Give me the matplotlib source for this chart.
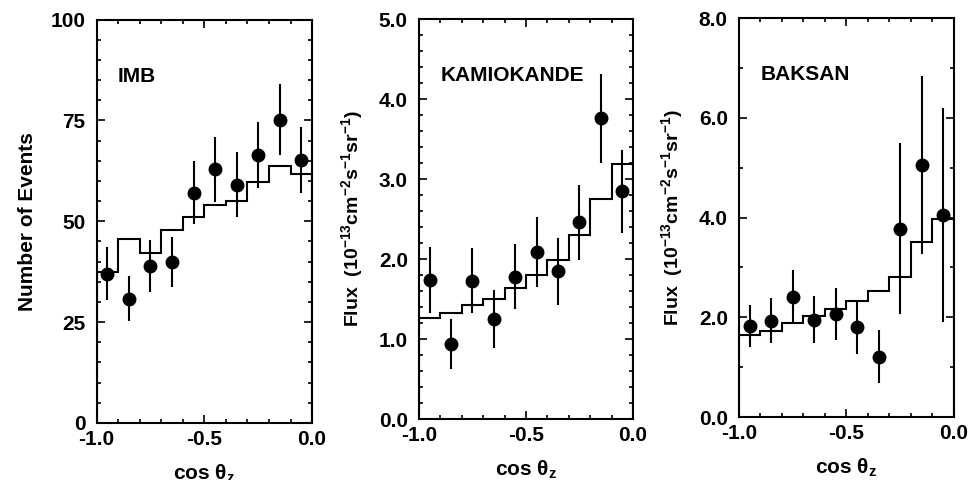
import numpy as np
import matplotlib.pyplot as plt
from matplotlib.ticker import MultipleLocator

plt.rcParams['font.family'] = ['Liberation Sans', 'DejaVu Sans']
plt.rcParams['font.weight'] = 'bold'
plt.rcParams['axes.labelweight'] = 'bold'
plt.rcParams['mathtext.fontset'] = 'custom'
plt.rcParams['mathtext.rm'] = 'Liberation Sans:bold'
plt.rcParams['mathtext.it'] = 'Liberation Sans:bold'
plt.rcParams['mathtext.bf'] = 'Liberation Sans:bold'

bin_edges = np.round(np.arange(-1.0, 0.01, 0.1), 2)
centers = np.round(np.arange(-0.95, 0.0, 0.1), 2)

# IMB
imb_pts = [37.0, 30.8, 38.9, 39.9, 57.1, 62.9, 59.1, 66.4, 75.2, 65.1]
imb_err = [6.5, 5.6, 6.5, 6.3, 7.8, 8.0, 8.1, 8.1, 8.8, 8.2]
imb_mc = [37.4, 45.5, 42.2, 47.8, 51.1, 54.0, 55.0, 59.7, 63.7, 61.7]

# Kamiokande
kam_pts = [1.74, 0.94, 1.73, 1.25, 1.78, 2.09, 1.85, 2.46, 3.76, 2.85]
kam_err = [0.41, 0.31, 0.41, 0.36, 0.41, 0.44, 0.42, 0.47, 0.56, 0.52]
kam_mc = [1.26, 1.33, 1.42, 1.50, 1.64, 1.80, 1.99, 2.30, 2.75, 3.19]

# Baksan
bak_pts = [1.83, 1.93, 2.41, 1.95, 2.07, 1.80, 1.21, 3.78, 5.05, 4.05]
bak_err = [0.42, 0.45, 0.54, 0.47, 0.52, 0.54, 0.53, 1.72, 1.78, 2.14]
bak_mc = [1.65, 1.73, 1.89, 2.03, 2.17, 2.33, 2.53, 2.80, 3.52, 3.97]

flux_label = r'Flux  (10$^{\mathbf{-13}}$cm$^{\mathbf{-2}}$s$^{\mathbf{-1}}$sr$^{\mathbf{-1}}$)'
panels = [
    ('IMB', imb_pts, imb_err, imb_mc, 100, 25, 5, ['0', '25', '50', '75', '100'],
     'Number of Events', 15, [0.0994, 0.119, 0.222, 0.840]),
    ('KAMIOKANDE', kam_pts, kam_err, kam_mc, 5.0, 1.0, 0.2,
     ['0.0', '1.0', '2.0', '3.0', '4.0', '5.0'], flux_label, 14, [0.4315, 0.127, 0.2204, 0.833]),
    ('BAKSAN', bak_pts, bak_err, bak_mc, 8.0, 2.0, 1.0,
     ['0.0', '2.0', '4.0', '6.0', '8.0'], flux_label, 14, [0.761, 0.131, 0.2214, 0.8315]),
]

fig = plt.figure(figsize=(9.71, 4.80), dpi=100)
for name, pts, err, mc, ymax, major, minor, ylabels, ylab, ylsize, rect in panels:
    ax = fig.add_axes(rect)
    ax.stairs(mc, bin_edges, color='black', lw=1.5)
    ax.errorbar(centers, pts, yerr=err, fmt='o', color='black', ms=9,
                elinewidth=1.5, capsize=0)
    ax.set_xlim(-1.0, 0.0)
    ax.set_ylim(0, ymax)
    ax.set_xticks([-1.0, -0.5, 0.0])
    ax.set_xticklabels(['-1.0', '-0.5', '0.0'])
    ax.xaxis.set_minor_locator(MultipleLocator(0.1))
    ax.set_yticks(np.arange(0, ymax + major / 2, major))
    ax.set_yticklabels(ylabels)
    ax.yaxis.set_minor_locator(MultipleLocator(minor))
    ax.tick_params(which='both', direction='in', top=True, right=True,
                   labelsize=15, width=1.2)
    ax.tick_params(which='major', length=6)
    ax.tick_params(which='minor', length=3)
    ax.tick_params(axis='y', which='major', pad=8)
    ax.tick_params(axis='x', which='major', pad=5)
    for s in ax.spines.values():
        s.set_linewidth(1.5)
    ax.set_xlabel(r'cos $\theta_z$', fontsize=15, labelpad=10)
    ax.set_ylabel(ylab, fontsize=ylsize, labelpad=10)
    ax.text(0.1, 0.845, name, transform=ax.transAxes, fontsize=15)

fig.savefig('out.png', dpi=100)
